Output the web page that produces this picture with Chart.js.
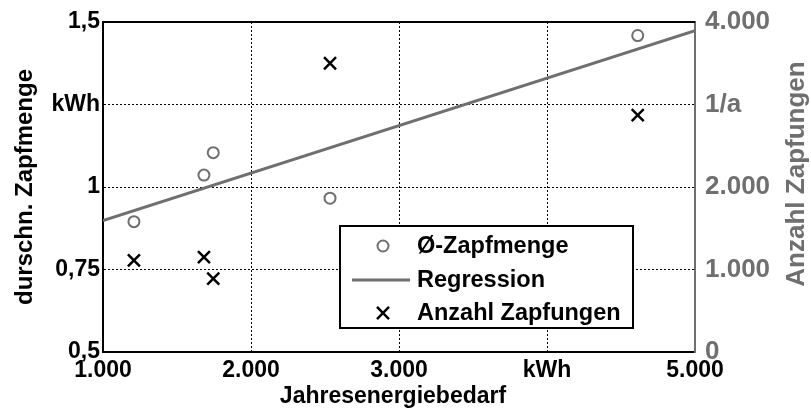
<!DOCTYPE html>
<html>
<head>
<meta charset="utf-8">
<script src="https://cdn.jsdelivr.net/npm/chart.js@4"></script>
<style>
  html, body { margin: 0; padding: 0; background: #fff; }
  #wrap { width: 811px; height: 412px; }
</style>
</head>
<body>
<div id="wrap"><canvas id="c" width="811" height="412"></canvas></div>
<script>
// Jahresenergiebedarf (kWh/a) je Messstelle
const energyDemand = [1209, 1682, 1745, 2534, 4613];
// durchschnittliche Zapfmenge je Zapfung (kWh)
const avgDraw = [0.895, 1.036, 1.104, 0.966, 1.459];
// Anzahl Zapfungen pro Jahr
const drawCount = [1110, 1150, 890, 3500, 2870];
// Regressionsgerade der Zapfmenge: Endpunkte
const regressionX = [1000, 5000];
const regressionY = [0.898, 1.474];

// Achsenbeschriftungen
const xTickLabels = { 1000: '1.000', 2000: '2.000', 3000: '3.000', 4000: 'kWh', 5000: '5.000' };
const yTickLabels = { 0.5: '0,5', 0.75: '0,75', 1: '1', 1.25: 'kWh', 1.5: '1,5' };
const y2TickLabels = { 0: '0', 1000: '1.000', 2000: '2.000', 3000: '1/a', 4000: '4.000' };

const GRAY = '#6f6f6f';
const FONT = "'Liberation Sans', Arial, sans-serif";

const pairs = (xs, ys) => xs.map((x, i) => ({ x: x, y: ys[i] }));

// Gitterlinien nur im Inneren, nicht auf dem Rahmen
const innerGrid = (min, max) => ctx => {
  const v = ctx.tick ? ctx.tick.value : null;
  return (v === min || v === max) ? 'rgba(0,0,0,0)' : '#000';
};

// Achsentitel, Rahmen oben und Legende werden direkt gezeichnet
const decor = {
  id: 'decor',
  afterDraw(chart) {
    const ctx = chart.ctx;
    const a = chart.chartArea;
    ctx.save();
    // obere Rahmenlinie
    ctx.strokeStyle = '#000';
    ctx.lineWidth = 2;
    ctx.beginPath();
    ctx.moveTo(a.left - 1, a.top);
    ctx.lineTo(a.right, a.top);
    ctx.stroke();

    ctx.textAlign = 'center';
    ctx.textBaseline = 'middle';
    // x-Achsentitel
    ctx.font = 'bold 23px ' + FONT;
    ctx.fillStyle = '#000';
    ctx.fillText('Jahresenergiebedarf', 393, 397);
    // linker Achsentitel
    ctx.save();
    ctx.font = 'bold 24px ' + FONT;
    ctx.translate(25, 187);
    ctx.rotate(-Math.PI / 2);
    ctx.fillText('durschn. Zapfmenge', 0, 0);
    ctx.restore();
    // rechter Achsentitel
    ctx.save();
    ctx.font = 'bold 26px ' + FONT;
    ctx.fillStyle = GRAY;
    ctx.translate(797, 174);
    ctx.rotate(-Math.PI / 2);
    ctx.fillText('Anzahl Zapfungen', 0, 0);
    ctx.restore();

    // Legende
    const bx = 340, by = 226, bw = 293, bh = 102;
    ctx.fillStyle = '#fff';
    ctx.fillRect(bx, by, bw, bh);
    ctx.strokeStyle = '#000';
    ctx.lineWidth = 2;
    ctx.strokeRect(bx, by, bw, bh);
    const rows = [246, 280, 313];
    const ds = chart.data.datasets;
    ctx.font = 'bold 23.5px ' + FONT;
    ctx.textAlign = 'left';
    ds.forEach((d, i) => {
      const y = rows[i];
      ctx.strokeStyle = d.borderColor;
      ctx.lineWidth = d.borderWidth;
      if (d.type === 'scatter') {
        if (d.pointStyle === 'crossRot') {
          const r = d.pointRadius * Math.SQRT1_2;
          ctx.beginPath();
          ctx.moveTo(383 - r, y - r); ctx.lineTo(383 + r, y + r);
          ctx.moveTo(383 + r, y - r); ctx.lineTo(383 - r, y + r);
          ctx.stroke();
        } else {
          ctx.beginPath();
          ctx.arc(383, y, d.pointRadius, 0, Math.PI * 2);
          ctx.stroke();
        }
      } else {
        ctx.beginPath();
        ctx.moveTo(352, y);
        ctx.lineTo(410, y);
        ctx.stroke();
      }
      ctx.fillStyle = '#000';
      ctx.fillText(d.label, 417, y + 1);
    });
    ctx.restore();
  }
};

new Chart(document.getElementById('c'), {
  type: 'scatter',
  data: {
    datasets: [
      {
        type: 'scatter',
        label: 'Ø-Zapfmenge',
        data: pairs(energyDemand, avgDraw),
        yAxisID: 'y',
        pointStyle: 'circle',
        pointRadius: 5.5,
        borderColor: GRAY,
        backgroundColor: 'rgba(0,0,0,0)',
        borderWidth: 2,
        showLine: false
      },
      {
        type: 'line',
        label: 'Regression',
        data: pairs(regressionX, regressionY),
        yAxisID: 'y',
        borderColor: GRAY,
        borderWidth: 3,
        pointRadius: 0,
        fill: false,
        tension: 0
      },
      {
        type: 'scatter',
        label: 'Anzahl Zapfungen',
        data: pairs(energyDemand, drawCount),
        yAxisID: 'y2',
        pointStyle: 'crossRot',
        pointRadius: 8.5,
        borderColor: '#000',
        backgroundColor: '#000',
        borderWidth: 2.5,
        showLine: false
      }
    ]
  },
  options: {
    responsive: false,
    animation: false,
    devicePixelRatio: 1,
    layout: { padding: { top: 22, left: 0, right: 0, bottom: 0 } },
    plugins: { legend: { display: false }, tooltip: { enabled: false } },
    scales: {
      x: {
        type: 'linear',
        min: 1000, max: 5000,
        afterFit: s => { s.height = 60; },
        afterBuildTicks: s => { s.ticks = [1000, 2000, 3000, 4000, 5000].map(v => ({ value: v })); },
        border: { color: '#000', width: 2, dash: [2, 2] },
        grid: { color: innerGrid(1000, 5000), lineWidth: 1, drawTicks: false },
        ticks: {
          padding: 5,
          color: '#000',
          font: { family: FONT, size: 23, weight: 'bold' },
          maxRotation: 0,
          callback: v => xTickLabels[v] ?? ''
        }
      },
      y: {
        type: 'linear',
        position: 'left',
        min: 0.5, max: 1.5,
        afterFit: s => { s.width = 103; },
        afterBuildTicks: s => { s.ticks = [0.5, 0.75, 1, 1.25, 1.5].map(v => ({ value: v })); },
        border: { color: '#000', width: 2, dash: [2, 2] },
        grid: { color: innerGrid(0.5, 1.5), lineWidth: 1, drawTicks: false },
        ticks: {
          padding: 3,
          color: '#000',
          font: { family: FONT, size: 23, weight: 'bold' },
          callback: v => yTickLabels[v] ?? ''
        }
      },
      y2: {
        type: 'linear',
        position: 'right',
        min: 0, max: 4000,
        afterFit: s => { s.width = 116; },
        afterBuildTicks: s => { s.ticks = [0, 1000, 2000, 3000, 4000].map(v => ({ value: v })); },
        border: { color: GRAY, width: 2 },
        grid: { display: false },
        ticks: {
          padding: 2,
          color: GRAY,
          font: { family: FONT, size: 26, weight: 'bold' },
          callback: v => y2TickLabels[v] ?? ''
        }
      }
    }
  },
  plugins: [decor]
});
</script>
</body>
</html>
